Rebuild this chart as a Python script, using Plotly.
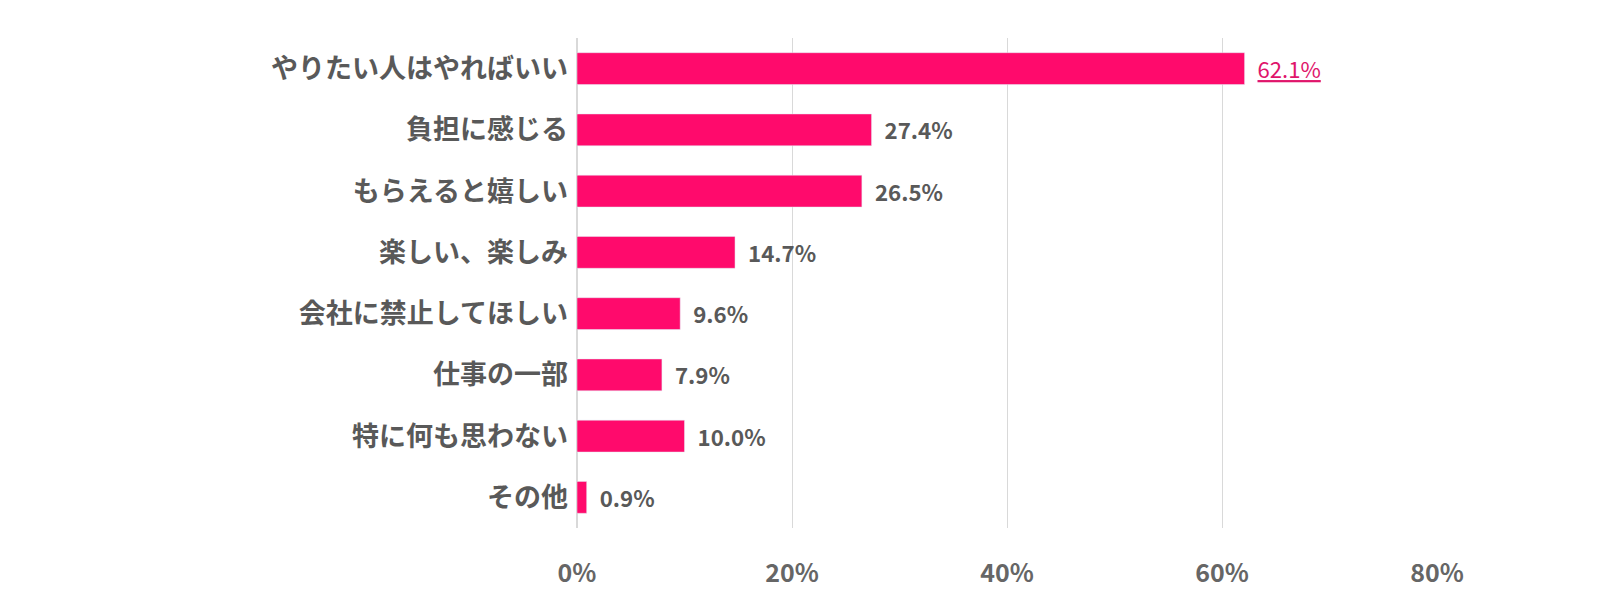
import plotly.graph_objects as go

categories = ["やりたい人はやればいい","負担に感じる","もらえると嬉しい","楽しい、楽しみ","会社に禁止してほしい","仕事の一部","特に何も思わない","その他"]
values = [62.1, 27.4, 26.5, 14.7, 9.6, 7.9, 10.0, 0.9]
tick_vals = [0, 20, 40, 60, 80]
tick_text = ["0%", "20%", "40%", "60%", "80%"]

texts = [f"  <u>{v:.1f}%</u>" if i == 0 else f"  <b>{v:.1f}%</b>" for i, v in enumerate(values)]
tcolors = ["#E0156B" if i == 0 else "#595959" for i in range(len(values))]
tsizes = [34 if i == 0 else 28 for i in range(len(values))]

fig = go.Figure(go.Bar(
    x=values, y=categories, orientation="h", width=0.52,
    marker=dict(color="#FF0A6C"),
    text=texts, textposition="outside", cliponaxis=False,
    textfont=dict(color=tcolors, size=tsizes, family="Noto Sans CJK JP"),
))
fig.update_layout(
    width=1600, height=606, plot_bgcolor="white", paper_bgcolor="white",
    margin=dict(l=569, r=171, t=30, b=86), showlegend=False,
    font=dict(family="Noto Sans CJK JP", color="#595959"),
)
fig.update_xaxes(range=[0, 80], tickvals=tick_vals, ticktext=[f"<b>{t}</b>" for t in tick_text],
                 showgrid=True, gridcolor="#D9D9D9", zeroline=True, zerolinecolor="#D9D9D9",
                 tickfont=dict(size=25, color="#666666"), ticklabelstandoff=28)
fig.update_yaxes(autorange="reversed", tickvals=categories,
                 ticktext=[f"<b>{c}</b>" for c in categories], ticksuffix="  ",
                 tickfont=dict(size=27, color="#595959", family="Noto Sans CJK JP"),
                 ticklabelstandoff=8)
fig.write_html("out.html")
